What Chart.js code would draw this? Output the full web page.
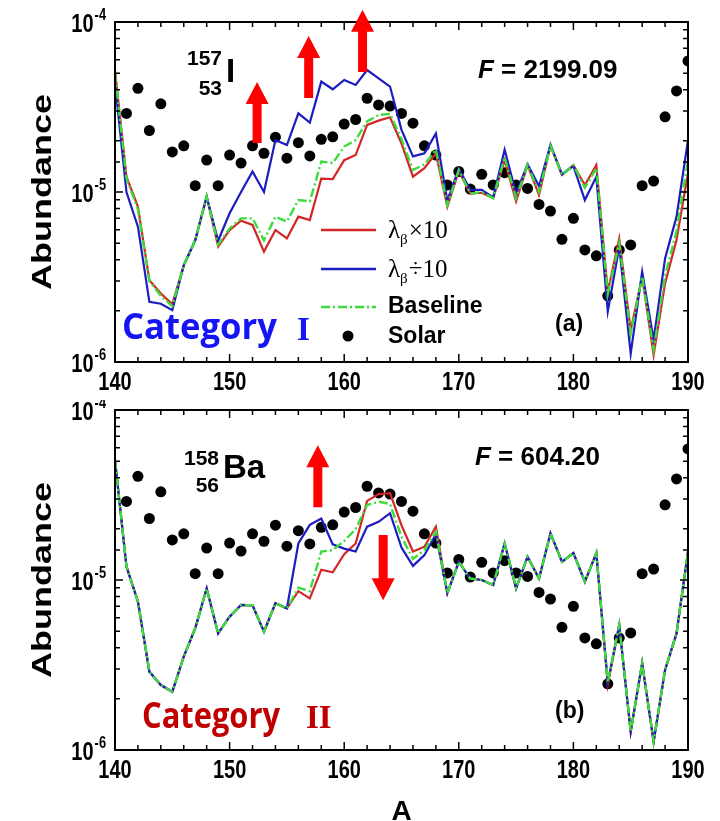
<!DOCTYPE html>
<html lang="en">
<head>
  <meta charset="UTF-8">
  <title>Abundance vs A</title>
  <script src="https://cdn.jsdelivr.net/npm/chart.js"></script>
  <style>
    body { margin: 0; background: #fff; }
    .wrap { position: relative; width: 720px; height: 821px; background: #fff; }
    canvas { position: absolute; left: 0; }
    #chartA { top: 0; }
    #chartB { top: 400px; }
  </style>
</head>
<body>
  <div class="wrap">
    <canvas id="chartA" width="720" height="400"></canvas>
    <canvas id="chartB" width="720" height="421"></canvas>
  </div>

  <script>
    // mass numbers A
    const massNumbers = [140, 141, 142, 143, 144, 145, 146, 147, 148, 149,
      150, 151, 152, 153, 154, 155, 156, 157, 158, 159,
      160, 161, 162, 163, 164, 165, 166, 167, 168, 169,
      170, 171, 172, 173, 174, 175, 176, 177, 178, 179,
      180, 181, 182, 183, 184, 185, 186, 187, 188, 189, 190];

    // solar abundances (same in both panels)
    const solar = [null, 2.9e-5, 4.07e-5, 2.3e-5, 3.3e-5, 1.72e-5, 1.87e-5, 1.09e-5, 1.54e-5, 1.09e-5,
      1.65e-5, 1.48e-5, 1.87e-5, 1.69e-5, 2.1e-5, 1.58e-5, 1.95e-5, 1.63e-5, 2.04e-5, 2.11e-5,
      2.51e-5, 2.67e-5, 3.56e-5, 3.25e-5, 3.2e-5, 2.9e-5, 2.54e-5, 1.87e-5, 1.65e-5, 1.1e-5,
      1.32e-5, 1.04e-5, 1.27e-5, 1.1e-5, 1.3e-5, 1.1e-5, 1.05e-5, 8.45e-6, 7.72e-6, 5.27e-6,
      7.0e-6, 4.56e-6, 4.21e-6, 2.45e-6, 4.56e-6, 4.88e-6, 1.09e-5, 1.16e-5, 2.77e-5, 3.93e-5,
      5.9e-5];

    // panel (a): 157I
    const aTimes10 = [5.2e-5, 1.23e-5, 8.2e-6, 3.03e-6, 2.53e-6, 2.19e-6, 3.7e-6, 5.2e-6, 9.4e-6, 4.77e-6,
      5.97e-6, 6.78e-6, 6.4e-6, 4.46e-6, 5.97e-6, 5.33e-6, 7.16e-6, 6.84e-6, 1.2e-5, 1.19e-5,
      1.54e-5, 1.65e-5, 2.48e-5, 2.63e-5, 2.75e-5, 1.93e-5, 1.23e-5, 1.38e-5, 1.69e-5, 8.2e-6,
      1.33e-5, 9.8e-6, 9.9e-6, 9.2e-6, 1.54e-5, 8.8e-6, 1.44e-5, 9.6e-6, 1.87e-5, 1.26e-5,
      1.44e-5, 1.1e-5, 1.44e-5, 2.59e-6, 5.33e-6, 1.54e-6, 3.18e-6, 1.1e-6, 2.9e-6, 5.23e-6,
      1.29e-5];
    const aDiv10 = [4.4e-5, 1.0e-5, 6.25e-6, 2.26e-6, 2.2e-6, 2.02e-6, 3.7e-6, 5.2e-6, 9.4e-6, 5.17e-6,
      7.5e-6, 1.0e-5, 1.32e-5, 1.0e-5, 2.02e-5, 1.89e-5, 2.9e-5, 2.56e-5, 4.46e-5, 4.02e-5,
      4.56e-5, 4.26e-5, 5.22e-5, 4.66e-5, 4.17e-5, 2.32e-5, 1.62e-5, 1.69e-5, 2.21e-5, 8.9e-6,
      1.37e-5, 1.03e-5, 1.03e-5, 9.3e-6, 1.77e-5, 9.8e-6, 1.46e-5, 1.08e-5, 1.9e-5, 1.27e-5,
      1.42e-5, 8.97e-6, 1.23e-5, 1.98e-6, 4.76e-6, 1.12e-6, 3.4e-6, 1.35e-6, 4.07e-6, 7.16e-6,
      2.02e-5];
    const aBaseline = [5.0e-5, 1.2e-5, 7.9e-6, 3.0e-6, 2.45e-6, 2.13e-6, 3.7e-6, 5.2e-6, 9.4e-6, 4.9e-6,
      6.1e-6, 7.0e-6, 7.0e-6, 5.2e-6, 7.16e-6, 6.7e-6, 8.98e-6, 8.8e-6, 1.51e-5, 1.48e-5,
      1.85e-5, 2.02e-5, 2.6e-5, 2.84e-5, 2.88e-5, 2.05e-5, 1.35e-5, 1.45e-5, 1.78e-5, 8.4e-6,
      1.35e-5, 9.8e-6, 1.0e-5, 9.2e-6, 1.6e-5, 9.2e-6, 1.44e-5, 1.0e-5, 1.87e-5, 1.26e-5,
      1.44e-5, 1.06e-5, 1.38e-5, 2.5e-6, 5.0e-6, 1.46e-6, 3.18e-6, 1.18e-6, 3.2e-6, 5.9e-6,
      1.54e-5];

    // panel (b): 158Ba
    const bTimes10 = [5.08e-5, 1.2e-5, 7.46e-6, 2.89e-6, 2.41e-6, 2.2e-6, 3.54e-6, 5.2e-6, 8.93e-6, 4.85e-6,
      6.08e-6, 7.13e-6, 7.1e-6, 4.97e-6, 7.3e-6, 6.8e-6, 8.6e-6, 7.8e-6, 1.15e-5, 1.11e-5,
      1.42e-5, 1.64e-5, 2.92e-5, 3.2e-5, 3.24e-5, 2.1e-5, 1.47e-5, 1.57e-5, 2.06e-5, 8.36e-6,
      1.28e-5, 1.02e-5, 1.0e-5, 9.35e-6, 1.64e-5, 8.93e-6, 1.37e-5, 1.02e-5, 1.88e-5, 1.28e-5,
      1.44e-5, 9.77e-6, 1.44e-5, 2.41e-6, 5.43e-6, 1.28e-6, 3.24e-6, 1.12e-6, 2.96e-6, 4.85e-6,
      1.47e-5];
    const bDiv10 = [5.08e-5, 1.2e-5, 7.46e-6, 2.89e-6, 2.41e-6, 2.2e-6, 3.54e-6, 5.2e-6, 8.93e-6, 4.85e-6,
      6.08e-6, 7.13e-6, 7.1e-6, 4.97e-6, 7.3e-6, 6.8e-6, 1.64e-5, 2.11e-5, 2.3e-5, 1.62e-5,
      1.53e-5, 1.47e-5, 2.06e-5, 2.2e-5, 2.47e-5, 1.55e-5, 1.21e-5, 1.4e-5, 1.86e-5, 8.36e-6,
      1.28e-5, 1.02e-5, 1.0e-5, 9.35e-6, 1.64e-5, 8.93e-6, 1.37e-5, 1.02e-5, 1.88e-5, 1.28e-5,
      1.44e-5, 9.77e-6, 1.44e-5, 2.5e-6, 5.43e-6, 1.28e-6, 3.24e-6, 1.12e-6, 2.96e-6, 4.85e-6,
      1.47e-5];
    const bBaseline = [5.08e-5, 1.2e-5, 7.46e-6, 2.89e-6, 2.41e-6, 2.2e-6, 3.54e-6, 5.2e-6, 8.93e-6, 4.85e-6,
      6.08e-6, 7.13e-6, 7.1e-6, 4.97e-6, 7.3e-6, 6.8e-6, 9.0e-6, 8.6e-6, 1.47e-5, 1.5e-5,
      1.7e-5, 1.99e-5, 2.76e-5, 2.89e-5, 2.8e-5, 1.8e-5, 1.33e-5, 1.5e-5, 1.92e-5, 8.36e-6,
      1.28e-5, 1.02e-5, 1.0e-5, 9.35e-6, 1.64e-5, 8.93e-6, 1.37e-5, 1.02e-5, 1.88e-5, 1.28e-5,
      1.44e-5, 9.77e-6, 1.44e-5, 2.5e-6, 5.43e-6, 1.28e-6, 3.24e-6, 1.12e-6, 2.96e-6, 4.85e-6,
      1.47e-5];

    // red arrows: A position, tail value, tip value
    const aArrows = [[152.4, 1.94e-5, 4.43e-5], [156.9, 3.57e-5, 8.27e-5], [161.6, 5.08e-5, 1.18e-4]];
    const bArrows = [[157.7, 2.68e-5, 6.2e-5], [163.4, 1.84e-5, 7.6e-6]];

    const xTickLabels = [140, 150, 160, 170, 180, 190];
    const yTickValues = [1e-6, 1e-5, 1e-4];
    const yTickLabels = ['10^-6', '10^-5', '10^-4'];
    const seriesNames = ['\u03bb\u03b2\u00d710', '\u03bb\u03b2\u00f710', 'Baseline', 'Solar'];

    const RED = '#d42626';
    const BLUE = '#1c1cc0';
    const GREEN = '#3cdc3c';
    const SANS = "'Liberation Sans', Arial, sans-serif";
    const SERIF = "'Liberation Serif', 'Times New Roman', serif";
    const SQUEEZE = 0.8; // the axis lettering is condensed

    function pts(arr) {
      return massNumbers.map((a, i) => ({ x: a, y: arr[i] }));
    }

    // text drawn with a horizontal scale factor, anchored by align
    function squeezed(ctx, s, x, y, font, sx, align) {
      ctx.font = font;
      ctx.textBaseline = 'alphabetic';
      ctx.textAlign = 'left';
      const w = ctx.measureText(s).width * sx;
      const x0 = align === 'center' ? x - w / 2 : align === 'right' ? x - w : x;
      ctx.save();
      ctx.translate(x0, y);
      ctx.scale(sx, 1);
      ctx.fillText(s, 0, 0);
      ctx.restore();
      return w;
    }

    function fitText(ctx, s, x, y, font, color, width) {
      ctx.font = font;
      ctx.fillStyle = color;
      const w = ctx.measureText(s).width;
      return squeezed(ctx, s, x, y, font, width / w, 'left');
    }

    function drawArrow(ctx, x, yTail, yTip) {
      const dir = Math.sign(yTip - yTail);
      const yb = yTip - dir * 22;
      ctx.beginPath();
      ctx.moveTo(x - 4.5, yTail);
      ctx.lineTo(x - 4.5, yb);
      ctx.lineTo(x - 11.5, yb);
      ctx.lineTo(x, yTip);
      ctx.lineTo(x + 11.5, yb);
      ctx.lineTo(x + 4.5, yb);
      ctx.lineTo(x + 4.5, yTail);
      ctx.closePath();
      ctx.fill();
    }

    // lambda_beta label with subscript beta
    function lambdaLabel(ctx, x, y, op) {
      ctx.fillStyle = '#000';
      ctx.textAlign = 'left';
      ctx.textBaseline = 'alphabetic';
      ctx.font = '25px ' + SERIF;
      ctx.fillText('\u03bb', x, y);
      let cx = x + ctx.measureText('\u03bb').width;
      ctx.font = '15px ' + SERIF;
      ctx.fillText('\u03b2', cx, y + 6);
      cx += ctx.measureText('\u03b2').width + 1;
      ctx.font = '25px ' + SERIF;
      ctx.fillText(op + '10', cx, y);
    }

    const decor = {
      id: 'decor',
      afterDraw(chart, args, o) {
        const { ctx, chartArea: ca, scales: { x, y } } = chart;
        ctx.save();

        // inward ticks
        ctx.strokeStyle = '#000';
        ctx.lineWidth = 1.5;
        ctx.beginPath();
        x.ticks.forEach(t => {
          const px = x.getPixelForValue(t.value);
          const len = xTickLabels.includes(t.value) ? 8 : 5;
          ctx.moveTo(px, ca.bottom); ctx.lineTo(px, ca.bottom - len);
          ctx.moveTo(px, ca.top); ctx.lineTo(px, ca.top + len);
        });
        y.ticks.forEach(t => {
          const py = y.getPixelForValue(t.value);
          const lg = Math.log10(t.value);
          const len = Math.abs(lg - Math.round(lg)) < 1e-6 ? 8 : 5;
          ctx.moveTo(ca.left, py); ctx.lineTo(ca.left + len, py);
          ctx.moveTo(ca.right, py); ctx.lineTo(ca.right - len, py);
        });
        ctx.stroke();

        // frame
        ctx.lineWidth = 2;
        ctx.strokeRect(ca.left, ca.top, ca.width, ca.height);

        ctx.fillStyle = '#000';

        // x tick labels
        xTickLabels.forEach(v => {
          squeezed(ctx, String(v), x.getPixelForValue(v), ca.bottom + 28, 'bold 25px ' + SANS, SQUEEZE, 'center');
        });

        // y tick labels with superscript exponent
        yTickValues.forEach((v, i) => {
          const py = y.getPixelForValue(v);
          const [base, exp] = yTickLabels[i].split('^');
          const ew = squeezed(ctx, exp, 106, py - 2, 'bold 16px ' + SANS, SQUEEZE, 'right');
          squeezed(ctx, base, 106 - ew - 1, py + 10, 'bold 25px ' + SANS, SQUEEZE, 'right');
        });

        // y axis title
        ctx.save();
        ctx.translate(43, (ca.top + ca.bottom) / 2);
        ctx.rotate(-Math.PI / 2);
        ctx.scale(1, 0.78);
        ctx.font = 'bold 36px ' + SANS;
        ctx.textAlign = 'center';
        ctx.textBaseline = 'middle';
        ctx.fillText('Abundance', 0, 0);
        ctx.restore();

        // x axis title
        if (o.xTitle) {
          ctx.font = 'bold 28px ' + SANS;
          ctx.textAlign = 'center';
          ctx.textBaseline = 'alphabetic';
          ctx.fillText(o.xTitle, (ca.left + ca.right) / 2, o.xTitleY);
        }

        // nuclide label
        const iso = o.iso;
        ctx.textAlign = 'right';
        ctx.font = 'bold 21px ' + SANS;
        ctx.fillText(iso.mass, iso.x, iso.massY);
        ctx.fillText(iso.z, iso.x, iso.zY);
        ctx.textAlign = 'left';
        ctx.font = 'bold 33px ' + SANS;
        ctx.fillText(iso.sym, iso.x + 4, iso.symY);

        // F value
        const f = o.fLabel;
        ctx.font = 'italic bold 26px ' + SANS;
        ctx.fillText('F', f.x, f.y);
        const fw = ctx.measureText('F').width;
        ctx.font = 'bold 26px ' + SANS;
        ctx.fillText(' = ' + f.value, f.x + fw, f.y);

        // panel tag
        ctx.font = 'bold 23px ' + SANS;
        ctx.fillText(o.tag.text, o.tag.x, o.tag.y);

        // category
        const c = o.cat;
        fitText(ctx, 'Category', c.x, c.y, "bold 35px 'Open Sans', " + SANS, c.color, c.width);
        ctx.font = 'bold 33px ' + SERIF;
        ctx.fillStyle = c.color;
        ctx.textAlign = 'left';
        ctx.fillText(c.roman, c.rx, c.ry);

        // legend
        if (o.legend) {
          const lx0 = 321, lx1 = 376, tx = 388;
          ctx.lineWidth = 2.5;
          ctx.strokeStyle = RED;
          ctx.beginPath(); ctx.moveTo(lx0, 230); ctx.lineTo(lx1, 230); ctx.stroke();
          ctx.strokeStyle = BLUE;
          ctx.beginPath(); ctx.moveTo(lx0, 269); ctx.lineTo(lx1, 269); ctx.stroke();
          ctx.strokeStyle = GREEN;
          ctx.setLineDash([9, 3, 2, 3]);
          ctx.beginPath(); ctx.moveTo(lx0, 307); ctx.lineTo(lx1, 307); ctx.stroke();
          ctx.setLineDash([]);
          ctx.fillStyle = '#000';
          ctx.beginPath(); ctx.arc(348, 336, 5.5, 0, Math.PI * 2); ctx.fill();
          lambdaLabel(ctx, tx, 238, '\u00d7');
          lambdaLabel(ctx, tx, 277, '\u00f7');
          ctx.fillStyle = '#000';
          ctx.font = 'bold 23px ' + SANS;
          ctx.fillText(seriesNames[2], tx, 313);
          ctx.fillText(seriesNames[3], tx, 343);
        }

        // arrows
        ctx.fillStyle = '#ff0000';
        o.arrows.forEach(([a, v0, v1]) => {
          drawArrow(ctx, x.getPixelForValue(a), y.getPixelForValue(v0), y.getPixelForValue(v1));
        });

        ctx.restore();
      }
    };

    function makeChart(id, red, blue, green, xAxisHeight, padTop, decorOpts) {
      return new Chart(document.getElementById(id), {
        type: 'line',
        data: {
          datasets: [
            { label: seriesNames[0], data: pts(red), borderColor: RED, borderWidth: 2.2, pointRadius: 0, order: 3 },
            { label: seriesNames[1], data: pts(blue), borderColor: BLUE, borderWidth: 2.2, pointRadius: 0, order: 2 },
            { label: seriesNames[2], data: pts(green), borderColor: GREEN, borderWidth: 2.4, borderDash: [9, 3, 2, 3], pointRadius: 0, order: 1 },
            { label: seriesNames[3], data: pts(solar), showLine: false, pointRadius: 5.5, pointBackgroundColor: '#000', pointBorderWidth: 0, order: 4 }
          ]
        },
        options: {
          responsive: false,
          animation: false,
          layout: { padding: { top: padTop, right: 32, left: 0, bottom: 0 } },
          scales: {
            x: {
              type: 'linear',
              min: 140,
              max: 190,
              grid: { display: false, drawTicks: false },
              border: { display: false },
              ticks: { stepSize: 2, autoSkip: false, display: false },
              afterFit: s => { s.height = xAxisHeight; }
            },
            y: {
              type: 'logarithmic',
              min: 1e-6,
              max: 1e-4,
              grid: { display: false, drawTicks: false },
              border: { display: false },
              ticks: { display: false },
              afterFit: s => { s.width = 115; }
            }
          },
          plugins: {
            legend: { display: false },
            tooltip: { enabled: false },
            decor: decorOpts
          }
        },
        plugins: [decor]
      });
    }

    makeChart('chartA', aTimes10, aDiv10, aBaseline, 38, 22, {
      iso: { mass: '157', z: '53', sym: 'I', x: 222, massY: 65, zY: 95, symY: 82 },
      fLabel: { value: '2199.09', x: 478, y: 78 },
      tag: { text: '(a)', x: 555, y: 331 },
      cat: { color: '#1414f5', x: 122, y: 339, width: 155, roman: 'I', rx: 297, ry: 340 },
      legend: true,
      arrows: aArrows
    });

    makeChart('chartB', bTimes10, bDiv10, bBaseline, 71, 10, {
      iso: { mass: '158', z: '56', sym: 'Ba', x: 219, massY: 65, zY: 92, symY: 78 },
      fLabel: { value: '604.20', x: 475, y: 65 },
      tag: { text: '(b)', x: 555, y: 318 },
      cat: { color: '#c00000', x: 142, y: 328, width: 138, roman: 'II', rx: 306, ry: 328 },
      legend: false,
      arrows: bArrows,
      xTitle: 'A',
      xTitleY: 420
    });
  </script>
</body>
</html>
